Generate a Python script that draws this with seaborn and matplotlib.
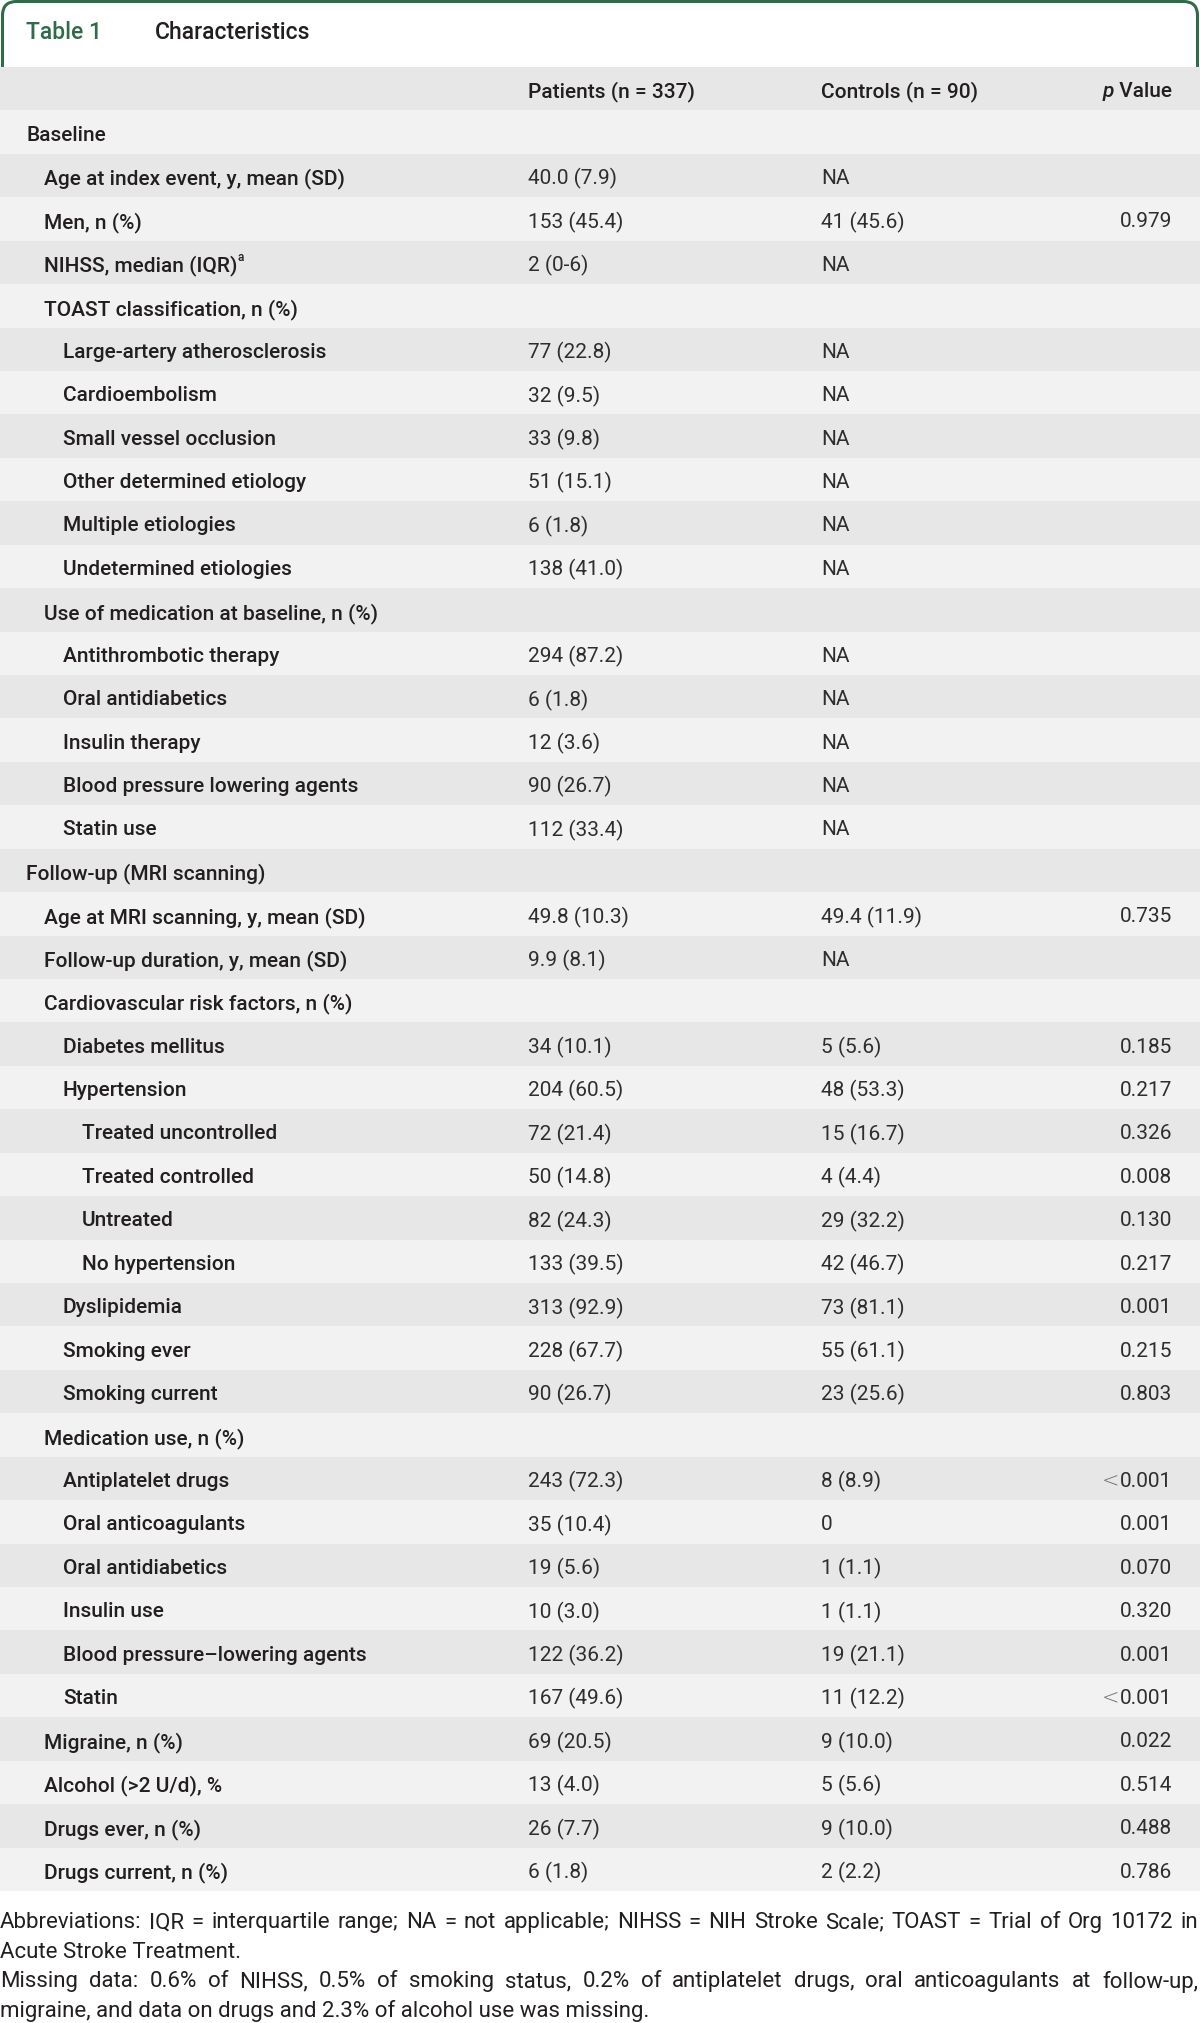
import matplotlib
matplotlib.use("Agg")
import matplotlib.pyplot as plt
import seaborn as sns
import pandas as pd
import numpy as np
from matplotlib.patches import FancyBboxPatch

# ---------------- data ----------------
col_headers = ["Patients (n = 337)", "Controls (n = 90)", "Value"]

labels = [
    "Baseline", "Age at index event, y, mean (SD)", "Men, n (%)", "NIHSS, median (IQR)",
    "TOAST classification, n (%)", "Large-artery atherosclerosis", "Cardioembolism",
    "Small vessel occlusion", "Other determined etiology", "Multiple etiologies",
    "Undetermined etiologies", "Use of medication at baseline, n (%)", "Antithrombotic therapy",
    "Oral antidiabetics", "Insulin therapy", "Blood pressure lowering agents", "Statin use",
    "Follow-up (MRI scanning)", "Age at MRI scanning, y, mean (SD)",
    "Follow-up duration, y, mean (SD)", "Cardiovascular risk factors, n (%)",
    "Diabetes mellitus", "Hypertension", "Treated uncontrolled", "Treated controlled",
    "Untreated", "No hypertension", "Dyslipidemia", "Smoking ever", "Smoking current",
    "Medication use, n (%)", "Antiplatelet drugs", "Oral anticoagulants", "Oral antidiabetics",
    "Insulin use", "Blood pressure\u2013lowering agents", "Statin", "Migraine, n (%)",
    "Alcohol (>2 U/d), %", "Drugs ever, n (%)", "Drugs current, n (%)",
]

levels = [0, 1, 1, 1, 1, 2, 2, 2, 2, 2, 2, 1, 2, 2, 2, 2, 2, 0, 1, 1, 1,
          2, 2, 3, 3, 3, 3, 2, 2, 2, 1, 2, 2, 2, 2, 2, 2, 1, 1, 1, 1]

patients = [
    "", "40.0 (7.9)", "153 (45.4)", "2 (0-6)", "", "77 (22.8)", "32 (9.5)", "33 (9.8)",
    "51 (15.1)", "6 (1.8)", "138 (41.0)", "", "294 (87.2)", "6 (1.8)", "12 (3.6)",
    "90 (26.7)", "112 (33.4)", "", "49.8 (10.3)", "9.9 (8.1)", "", "34 (10.1)",
    "204 (60.5)", "72 (21.4)", "50 (14.8)", "82 (24.3)", "133 (39.5)", "313 (92.9)",
    "228 (67.7)", "90 (26.7)", "", "243 (72.3)", "35 (10.4)", "19 (5.6)", "10 (3.0)",
    "122 (36.2)", "167 (49.6)", "69 (20.5)", "13 (4.0)", "26 (7.7)", "6 (1.8)",
]

controls = [
    "", "NA", "41 (45.6)", "NA", "", "NA", "NA", "NA", "NA", "NA", "NA", "", "NA", "NA",
    "NA", "NA", "NA", "", "49.4 (11.9)", "NA", "", "5 (5.6)", "48 (53.3)", "15 (16.7)",
    "4 (4.4)", "29 (32.2)", "42 (46.7)", "73 (81.1)", "55 (61.1)", "23 (25.6)", "",
    "8 (8.9)", "0", "1 (1.1)", "1 (1.1)", "19 (21.1)", "11 (12.2)", "9 (10.0)", "5 (5.6)",
    "9 (10.0)", "2 (2.2)",
]

pvalues = [
    "", "", "0.979", "", "", "", "", "", "", "", "", "", "", "", "", "", "", "",
    "0.735", "", "", "0.185", "0.217", "0.326", "0.008", "0.130", "0.217", "0.001",
    "0.215", "0.803", "", "<0.001", "0.001", "0.070", "0.320", "0.001", "<0.001",
    "0.022", "0.514", "0.488", "0.786",
]

footnotes = [
    ("Abbreviations: IQR = interquartile range; NA = not applicable; NIHSS = NIH Stroke Scale; TOAST = Trial of Org 10172 in", True),
    ("Acute Stroke Treatment.", False),
    ("Missing data: 0.6% of NIHSS, 0.5% of smoking status, 0.2% of antiplatelet drugs, oral anticoagulants at follow-up,", True),
    ("migraine, and data on drugs and 2.3% of alcohol use was missing.", False),
]

# ---------------- style ----------------
sns.set_theme(style="white")
plt.rcParams["font.family"] = ["Roboto", "DejaVu Sans"]

W, H = 1200, 2024
GREEN = "#2f6b48"
TXT = "#231f20"
VAL = "#2e2e2e"
FS = 15
FS_FOOT = 16

fig = plt.figure(figsize=(W / 100, H / 100), dpi=100)

# overlay axes in pixel coordinates (title box, footnotes)
bg = fig.add_axes([0, 0, 1, 1], zorder=-1)
bg.set_xlim(0, W)
bg.set_ylim(H, 0)
bg.axis("off")

box = FancyBboxPatch((2.5, 2.5), W - 5, 120, boxstyle="round,pad=0,rounding_size=14",
                     facecolor="white", edgecolor=GREEN, linewidth=2.2)
bg.add_patch(box)
bg.text(26, 32, "Table 1", color=GREEN, fontsize=16.5, fontweight="medium", va="center")
bg.text(155, 32, "Characteristics", color=TXT, fontsize=16.5, fontweight="medium", va="center")

# table axes
top_px, bot_px = 68, 1892
ax = fig.add_axes([0, 1 - bot_px / H, 1, (bot_px - top_px) / H], zorder=0)

n = len(labels) + 1
df = pd.DataFrame({
    "row": np.arange(n),
    "width": [W] * n,
    "stripe": ["dark" if i % 2 == 0 else "light" for i in range(n)],
})
sns.barplot(data=df, x="width", y="row", hue="stripe", orient="h",
            palette={"dark": "#e6e7e6", "light": "#f2f2f2"}, width=1.0,
            dodge=False, legend=False, errorbar=None, linewidth=0, ax=ax)
ax.set_xlim(0, W)
ax.set_ylim(n - 0.5, -0.5)
ax.axis("off")

X_PAT, X_CON, X_P = 528, 821, 1172
VA = "center_baseline"

# header
ax.text(X_PAT, 0, col_headers[0], fontsize=FS, color=TXT, fontweight="medium", va=VA)
ax.text(X_CON, 0, col_headers[1], fontsize=FS, color=TXT, fontweight="medium", va=VA)
tv = ax.text(X_P, 0, " " + col_headers[2], fontsize=FS, color=TXT, fontweight="medium",
             va=VA, ha="right")

label_texts = []
lt_texts = []
for i, lab in enumerate(labels):
    r = i + 1
    t = ax.text(26 + 18.5 * levels[i], r, lab, fontsize=FS, color=TXT,
                fontweight="medium", va=VA)
    label_texts.append(t)
    if patients[i]:
        ax.text(X_PAT, r, patients[i], fontsize=FS, color=VAL, va=VA)
    if controls[i]:
        ax.text(X_CON, r, controls[i], fontsize=FS, color=VAL, va=VA)
    if pvalues[i]:
        pv = pvalues[i]
        if pv.startswith("<"):
            tp = ax.text(X_P, r, pv[1:], fontsize=FS, color=VAL, va=VA, ha="right")
            lt_texts.append((tp, r))
        else:
            ax.text(X_P, r, pv, fontsize=FS, color=VAL, va=VA, ha="right")

fig.canvas.draw()
renderer = fig.canvas.get_renderer()
inv = ax.transData.inverted()

# italic p before "Value"
bb = tv.get_window_extent(renderer)
xl = inv.transform((bb.x0, bb.y0))[0]
ax.text(xl, 0, "p", fontsize=FS, color=TXT, fontstyle="italic", fontweight="medium",
        va=VA, ha="right")

# lighter, wide "<" sign
for tp, r in lt_texts:
    bb = tp.get_window_extent(renderer)
    xl = inv.transform((bb.x0, bb.y0))[0]
    ax.text(xl, r, "<", fontsize=FS, color="#707070", va=VA, ha="right",
            family="DejaVu Sans", fontweight="light")

# superscript a after NIHSS label
nih = labels.index("NIHSS, median (IQR)")
bb = label_texts[nih].get_window_extent(renderer)
xr = inv.transform((bb.x1, bb.y0))[0]
ax.text(xr - 0.5, nih + 1 - 0.13, "a", fontsize=8.5, color=TXT, fontweight="medium",
        va="center", ha="left")

# footnotes (justified where needed)
y0, dy = 1923, 29.5
for k, (line, justify) in enumerate(footnotes):
    y = y0 + k * dy
    if not justify:
        bg.text(0, y, line, fontsize=FS_FOOT, color=TXT, va="center")
        continue
    words = line.split(" ")
    widths = []
    for w in words:
        tt = bg.text(0, y, w, fontsize=FS_FOOT, color=TXT, va="center")
        b = tt.get_window_extent(renderer)
        widths.append(b.width)
        tt.remove()
    gap = (W - 2 - sum(widths)) / (len(words) - 1)
    x = 0.0
    for w, wd in zip(words, widths):
        bg.text(x, y, w, fontsize=FS_FOOT, color=TXT, va="center")
        x += wd + gap

fig.savefig("out.png", dpi=100)
